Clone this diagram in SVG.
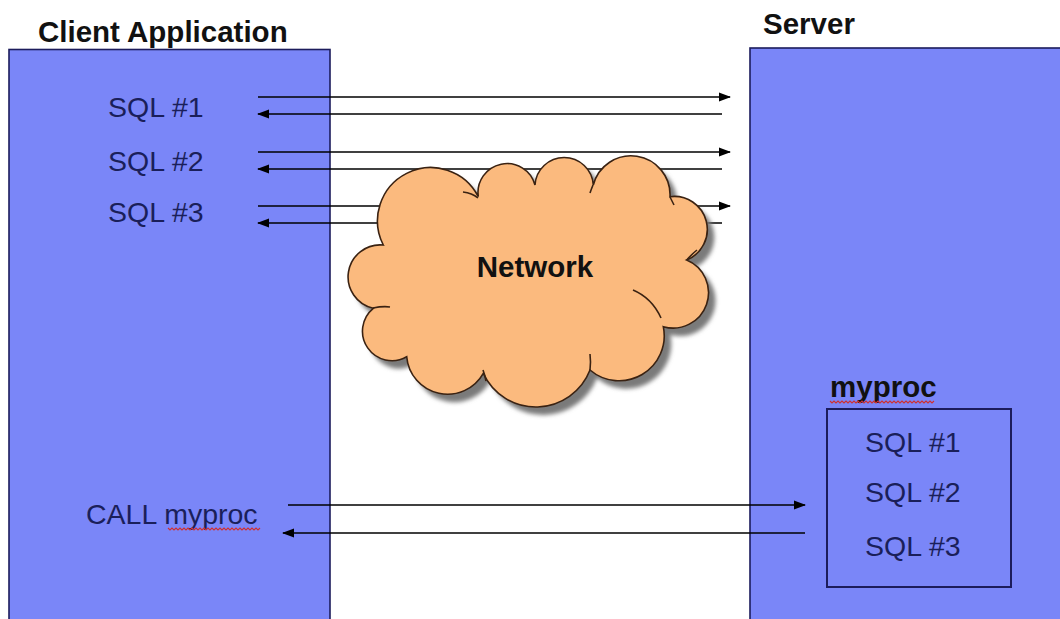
<svg xmlns="http://www.w3.org/2000/svg" width="1060" height="619" viewBox="0 0 1060 619">
  <style>
    .box { fill: #7A86F8; stroke: #1c1c5c; stroke-width: 1.6; }
    .inner { fill: none; stroke: #1c1c5c; stroke-width: 2; }
    .title { font-family: "Liberation Sans", Arial, sans-serif; font-weight: bold; font-size: 29.5px; fill: #111111; }
    .sql { font-family: "Liberation Sans", Arial, sans-serif; font-size: 28.5px; fill: #1a1f5a; }
    .conn { stroke: #000000; stroke-width: 1.6; fill: none; marker-end: url(#arrow); }
    .cloud { fill: #FBBA7E; stroke: #3a2212; stroke-width: 1.6; }
    .cloudline { fill: none; stroke: #3a2212; stroke-width: 1.6; }
    .squiggle { fill: none; stroke: #d03030; stroke-width: 1.1; }
  </style>
  <defs>
    <marker id="arrow" markerUnits="userSpaceOnUse" markerWidth="12" markerHeight="10" refX="11" refY="5" orient="auto">
      <path d="M0,0.5 L12,5 L0,9.5 Z" fill="#000000"/>
    </marker>
    <filter id="blur" x="-10%" y="-10%" width="120%" height="120%">
      <feGaussianBlur stdDeviation="2"/>
    </filter>
    <path id="cloudShape" d="M383.3,245 A52,52 0 0 1 478.3,196.7 A29,29 0 0 1 535,185 A29.2,29.2 0 0 1 593.3,185 A39,39 0 0 1 670,196.7 A33,33 0 0 1 686.7,260 A35.4,35.4 0 0 1 663.3,326.7 A45,45 0 0 1 590,370 A58,58 0 0 1 483.3,373.3 A41,41 0 0 1 406.7,356.7 A29.5,29.5 0 0 1 373.3,308.3 A32.1,32.1 0 0 1 383.3,245 Z"/>
  </defs>

  <rect x="0" y="0" width="1060" height="619" fill="#ffffff"/>

  <g id="client">
    <text class="title" x="38" y="42">Client Application</text>
    <rect class="box" x="9" y="49.5" width="321" height="600"/>
    <text class="sql" x="108" y="117">SQL #1</text>
    <text class="sql" x="108" y="171">SQL #2</text>
    <text class="sql" x="108" y="222">SQL #3</text>
    <text class="sql" x="86" y="524">CALL myproc</text>
    <path class="squiggle" d="M168,528 l2,2 l2,-2 l2,2 l2,-2 l2,2 l2,-2 l2,2 l2,-2 l2,2 l2,-2 l2,2 l2,-2 l2,2 l2,-2 l2,2 l2,-2 l2,2 l2,-2 l2,2 l2,-2 l2,2 l2,-2 l2,2 l2,-2 l2,2 l2,-2 l2,2 l2,-2 l2,2 l2,-2 l2,2 l2,-2 l2,2 l2,-2 l2,2 l2,-2 l2,2 l2,-2 l2,2 l2,-2 l2,2 l2,-2 l2,2 l2,-2 l2,2 l2,-2"/>
  </g>

  <g id="server">
    <text class="title" x="763" y="34">Server</text>
    <rect class="box" x="750" y="48" width="330" height="600"/>
  </g>

  <g id="myproc">
    <text class="title" x="830" y="397">myproc</text>
    <path class="squiggle" d="M830,401 l2,2 l2,-2 l2,2 l2,-2 l2,2 l2,-2 l2,2 l2,-2 l2,2 l2,-2 l2,2 l2,-2 l2,2 l2,-2 l2,2 l2,-2 l2,2 l2,-2 l2,2 l2,-2 l2,2 l2,-2 l2,2 l2,-2 l2,2 l2,-2 l2,2 l2,-2 l2,2 l2,-2 l2,2 l2,-2 l2,2 l2,-2 l2,2 l2,-2 l2,2 l2,-2 l2,2 l2,-2 l2,2 l2,-2 l2,2 l2,-2 l2,2 l2,-2 l2,2 l2,-2 l2,2 l2,-2 l2,2 l2,-2"/>
    <rect class="inner" x="827" y="409" width="184" height="178"/>
    <text class="sql" x="865" y="452">SQL #1</text>
    <text class="sql" x="865" y="502">SQL #2</text>
    <text class="sql" x="865" y="556">SQL #3</text>
  </g>

  <g id="connectors">
    <path class="conn" d="M258,97 H730"/>
    <path class="conn" d="M722,114 H258"/>
    <path class="conn" d="M258,152 H730"/>
    <path class="conn" d="M722,169 H258"/>
    <path class="conn" d="M258,206 H730"/>
    <path class="conn" d="M722,223 H258"/>
    <path class="conn" d="M288,505 H805"/>
    <path class="conn" d="M805,533 H283"/>
  </g>

  <g id="network">
    <use href="#cloudShape" transform="translate(7,8)" fill="#7a7a7a" filter="url(#blur)"/>
    <use href="#cloudShape" class="cloud"/>
    <path class="cloudline" d="M463,192 Q472,193 478,198"/>
    <path class="cloudline" d="M593,185 Q591,190 590,193"/>
    <path class="cloudline" d="M670,197 Q672,201 674,205"/>
    <path class="cloudline" d="M686.7,260 Q692,254 697,250"/>
    <path class="cloudline" d="M633,290 Q652,298 661,318"/>
    <path class="cloudline" d="M590,354 Q591,362 590,370"/>
    <path class="cloudline" d="M483,370 Q485,375 486,381"/>
    <path class="cloudline" d="M373,308 Q383,306 390,307"/>
    <text class="title" x="535" y="277" text-anchor="middle">Network</text>
  </g>
</svg>
